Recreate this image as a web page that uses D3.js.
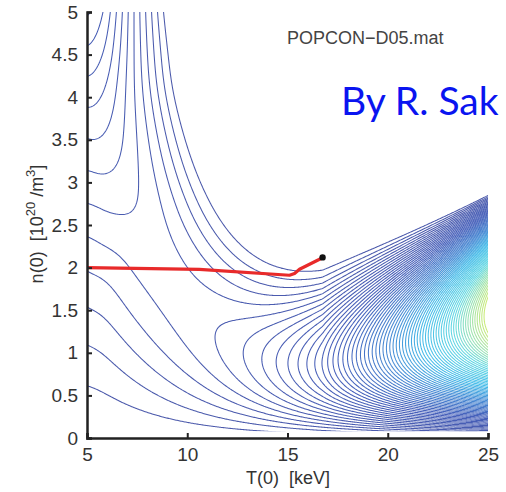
<!DOCTYPE html>
<html>
<head>
<meta charset="utf-8">
<script src="https://cdn.jsdelivr.net/npm/d3@7"></script>
<style>
  body { margin: 0; background: #fff; }
  svg { display: block; }
</style>
</head>
<body>
<div id="popcon"></div>
<script>
const width = 506, height = 492;

// axis ticks
const xTicks = [5, 10, 15, 20, 25];
const yTicks = [0, 0.5, 1, 1.5, 2, 2.5, 3, 3.5, 4, 4.5, 5];

// operating path, T(0) [keV] / n(0) [1e20 m^-3]
const pathT = [5, 10.6, 15.1, 15.35, 15.6, 16.7];
const pathN = [2.0, 1.98, 1.91, 1.93, 1.98, 2.11];
const ignitionPoint = [16.75, 2.12];

// low-T hill: end temperature and ramp width, sampled at n = 1.5 ... 5.5 step 0.5
const wallT = [9.2, 9.8, 12.5, 11.0, 10.3, 9.7, 9.4, 9.1, 8.9];
const wallW = [3.4, 4.0, 5.5, 4.5, 4.3, 4.0, 3.8, 3.6, 3.5];

// contour levels of P_aux (arbitrary units)
const levelCount = 66;
const levelStep = 0.59;
const levels = d3.range(1, levelCount + 1).map(k => k * levelStep);

// field model parameters
const nExp = 1.22;
const gA = 0.3688, gB = 0.00824;

const x = d3.scaleLinear().domain([5, 25]).range([87, 488]);
const y = d3.scaleLinear().domain([0, 5]).range([438, 12]);
const wallTi = d3.interpolateBasis(wallT);
const wallWi = d3.interpolateBasis(wallW);

function softClamp(v) {
  if (v <= 0) return 0;
  if (v < 0.8) return v;
  if (v > 1.2) return 1;
  const d = v - 0.8;
  return 0.8 + d - d * d / 0.8;
}
function nBound(T) {
  const [Ti, ni] = ignitionPoint;
  if (T <= 4) return Infinity;
  if (T < Ti) return ni + 0.27 * (Ti - T) * (Ti - T) / (T - 4);
  const d = T - Ti;
  return ni + 0.07 * d + 0.0025 * d * d;
}
function paux(T, n) {
  const g = Math.exp(gA * (T - 5) - gB * (T - 5) * (T - 5));
  const p = 1.2 + 0.95 * (25 - T) / 15.1;
  const s = Math.max(0, 1 - n / nBound(T));
  const hill = g * Math.pow(s, p);
  const t = Math.min(1, Math.max(0, (n - 1.5) / 4));
  const wall = softClamp((wallTi(t) - T) / wallWi(t));
  const m = Math.pow(Math.pow(hill, 8) + Math.pow(wall, 8), 1 / 8);
  return Math.pow(n, nExp) * m;
}

// grid
const nx = 420, ny = 280;
const T0 = 4.9, T1 = 25.1, N0 = 0.0, N1 = 5.1;
const dT = (T1 - T0) / nx, dN = (N1 - N0) / ny;
const values = new Float64Array(nx * ny);
for (let j = 0; j < ny; j++) {
  for (let i = 0; i < nx; i++) {
    values[j * nx + i] = paux(T0 + (i + 0.5) * dT, N0 + (j + 0.5) * dN);
  }
}

const svg = d3.select('#popcon').append('svg')
  .attr('width', width).attr('height', height)
  .attr('viewBox', `0 0 ${width} ${height}`);

svg.append('defs').append('clipPath').attr('id', 'plotclip')
  .append('rect')
  .attr('x', x(5)).attr('y', y(5))
  .attr('width', x(25) - x(5)).attr('height', y(0.08) - y(5));

const proj = d3.geoTransform({
  point: function(gx, gy) { this.stream.point(x(T0 + gx * dT), y(N0 + gy * dN)); }
});
const path = d3.geoPath(proj);

const topLevel = levels[levels.length - 1];
const color = d3.scaleLinear()
  .domain([0, 0.25, 0.45, 0.62, 0.8, 0.92, 1].map(t => t * topLevel))
  .range(['#4150a6', '#3b56b6', '#3d84d2', '#3bb8e8', '#5ad6e2', '#9ee2a4', '#c6ea72']);

const contours = d3.contours().size([nx, ny]).thresholds(levels)(values);

/* Contours */
svg.append('g').attr('clip-path', 'url(#plotclip)')
  .selectAll('path')
  .data(contours).join('path')
  .attr('d', path)
  .attr('fill', 'none')
  .attr('stroke', d => color(d.value))
  .attr('stroke-width', 1.05)
  .attr('stroke-opacity', 0.95);

/* Path to ignition */
const pathLine = d3.line().x(d => x(d[0])).y(d => y(d[1]));
svg.append('path')
  .attr('d', pathLine(pathT.map((t, i) => [t, pathN[i]])))
  .attr('fill', 'none').attr('stroke', '#e82a2a')
  .attr('stroke-width', 3.2).attr('stroke-linejoin', 'round');
svg.append('circle')
  .attr('cx', x(ignitionPoint[0])).attr('cy', y(ignitionPoint[1]))
  .attr('r', 3.2).attr('fill', '#111');

/* Axes */
const font = 'Liberation Sans, Arial, sans-serif';
svg.append('g')
  .attr('transform', `translate(0,${y(0)})`)
  .call(d3.axisBottom(x).tickValues(xTicks).tickSize(-5).tickPadding(10).tickFormat(d3.format('d')))
  .call(ax => ax.select('.domain').attr('stroke', '#222').attr('stroke-width', 2.5))
  .call(ax => ax.selectAll('.tick line').attr('stroke', '#222').attr('stroke-width', 2))
  .selectAll('text')
    .style('font-family', font).style('font-size', '19px').style('fill', '#333');

svg.append('g')
  .attr('transform', `translate(${x(5)},0)`)
  .call(d3.axisLeft(y).tickValues(yTicks).tickSize(-5).tickPadding(9).tickFormat(d3.format('~g')))
  .call(ax => ax.select('.domain').attr('stroke', '#222').attr('stroke-width', 2.5))
  .call(ax => ax.selectAll('.tick line').attr('stroke', '#222').attr('stroke-width', 2))
  .selectAll('text')
    .style('font-family', font).style('font-size', '19px').style('fill', '#333');

/* Axis titles */
svg.append('text')
  .attr('x', 288).attr('y', 484)
  .attr('text-anchor', 'middle')
  .attr('font-family', font).attr('font-size', '18px').attr('fill', '#333')
  .attr('xml:space', 'preserve')
  .text('T(0)  [keV]');

const yTitle = svg.append('text')
  .attr('transform', 'translate(43,224) rotate(-90)')
  .attr('text-anchor', 'middle')
  .attr('font-family', font).attr('font-size', '18px').attr('fill', '#333')
  .attr('xml:space', 'preserve');
yTitle.append('tspan').text('n(0)  [10');
yTitle.append('tspan').attr('dy', -8).attr('font-size', '13px').text('20');
yTitle.append('tspan').attr('dy', 8).text(' /m');
yTitle.append('tspan').attr('dy', -8).attr('font-size', '13px').text('3');
yTitle.append('tspan').attr('dy', 8).text(']');

/* Annotations */
svg.append('text')
  .attr('x', 287).attr('y', 44)
  .attr('font-family', font).attr('font-size', '18px').attr('fill', '#444')
  .text('POPCON\u2212D05.mat');

svg.append('text')
  .attr('x', 341).attr('y', 115)
  .attr('font-family', 'Lato, Open Sans, sans-serif').attr('font-size', '39px').attr('fill', '#0a14f0')
  .text('By R. Sak');
</script>
</body>
</html>
